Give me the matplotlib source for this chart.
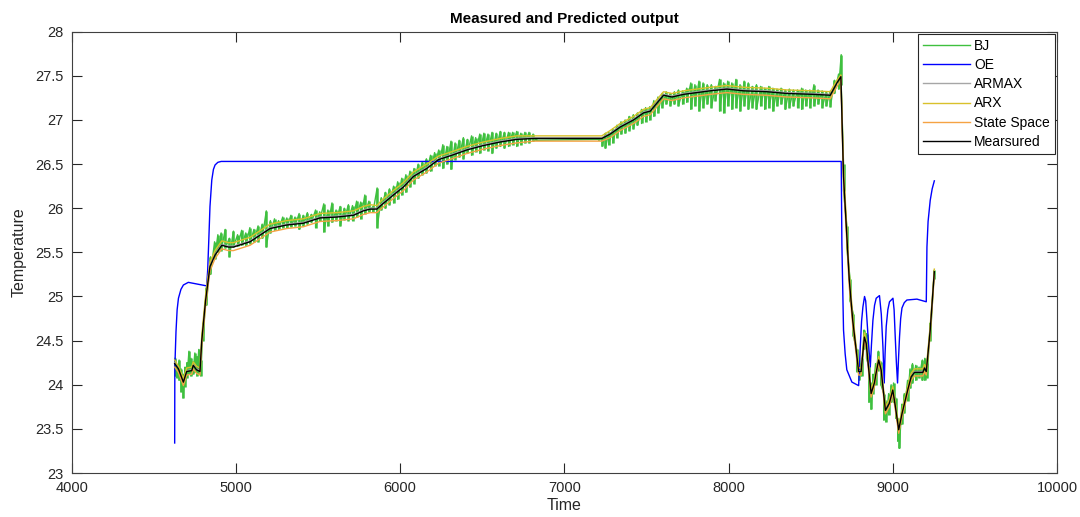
import numpy as np
import matplotlib
matplotlib.use("Agg")
import matplotlib.pyplot as plt

plt.rcParams['font.family'] = ['Liberation Sans', 'DejaVu Sans']

# measured output and the smooth model predictions (same time grid)
meas_t = [4627, 4650, 4680, 4700, 4731, 4740, 4760, 4781, 4792, 4815,
          4842, 4873, 4914, 4954, 4985, 5086, 5208, 5310, 5411, 5512,
          5614, 5716, 5776, 5817, 5858, 5888, 5959, 6020, 6081, 6162,
          6233, 6315, 6406, 6507, 6609, 6710, 6812, 7228, 7279, 7340,
          7421, 7482, 7523, 7563, 7604, 7655, 7726, 7807, 7888, 7990,
          8091, 8233, 8355, 8517, 8619, 8660, 8684, 8700, 8735, 8756,
          8792, 8807, 8827, 8838, 8868, 8888, 8898, 8914, 8929, 8955,
          8979, 9000, 9016, 9036, 9057, 9091, 9112, 9132, 9183, 9193,
          9204, 9228, 9253]
meas_y = [24.24, 24.18, 24.03, 24.15, 24.16, 24.22, 24.17, 24.15, 24.50, 24.95,
          25.34, 25.47, 25.58, 25.56, 25.56, 25.62, 25.77, 25.81, 25.83, 25.89,
          25.90, 25.92, 25.97, 25.99, 25.99, 26.04, 26.15, 26.24, 26.36, 26.45,
          26.55, 26.60, 26.66, 26.71, 26.75, 26.78, 26.79, 26.79, 26.84, 26.92,
          27.00, 27.08, 27.10, 27.19, 27.28, 27.26, 27.29, 27.31, 27.33, 27.35,
          27.33, 27.32, 27.30, 27.29, 27.28, 27.42, 27.49, 26.36, 25.19, 24.73,
          24.15, 24.15, 24.54, 24.47, 23.90, 24.02, 24.13, 24.28, 24.17, 23.71,
          23.79, 23.94, 23.75, 23.49, 23.68, 23.94, 24.09, 24.14, 24.14, 24.19,
          24.15, 24.62, 25.28]
armax_y = [24.25, 24.19, 24.04, 24.16, 24.17, 24.23, 24.18, 24.16, 24.52, 24.97,
           25.36, 25.48, 25.59, 25.57, 25.57, 25.63, 25.78, 25.82, 25.84, 25.90,
           25.91, 25.93, 25.98, 26.00, 26.00, 26.05, 26.16, 26.25, 26.37, 26.46,
           26.56, 26.61, 26.67, 26.72, 26.76, 26.79, 26.80, 26.80, 26.85, 26.93,
           27.01, 27.09, 27.11, 27.20, 27.29, 27.27, 27.30, 27.32, 27.34, 27.36,
           27.34, 27.33, 27.31, 27.30, 27.29, 27.43, 27.50, 26.40, 25.22, 24.75,
           24.16, 24.16, 24.55, 24.48, 23.91, 24.03, 24.14, 24.29, 24.18, 23.72,
           23.80, 23.95, 23.76, 23.50, 23.69, 23.95, 24.10, 24.15, 24.15, 24.20,
           24.16, 24.64, 25.29]
arx_y = [24.28, 24.21, 24.07, 24.19, 24.20, 24.26, 24.21, 24.19, 24.56, 25.01,
         25.39, 25.52, 25.63, 25.61, 25.61, 25.67, 25.82, 25.86, 25.88, 25.94,
         25.95, 25.97, 26.02, 26.04, 26.03, 26.09, 26.20, 26.29, 26.41, 26.50,
         26.59, 26.64, 26.70, 26.75, 26.79, 26.82, 26.82, 26.82, 26.88, 26.96,
         27.04, 27.12, 27.14, 27.23, 27.32, 27.30, 27.33, 27.35, 27.37, 27.39,
         27.37, 27.36, 27.34, 27.33, 27.32, 27.45, 27.51, 26.46, 25.26, 24.79,
         24.19, 24.19, 24.59, 24.51, 23.94, 24.06, 24.17, 24.32, 24.21, 23.75,
         23.83, 23.98, 23.79, 23.53, 23.72, 23.98, 24.13, 24.18, 24.18, 24.23,
         24.19, 24.67, 25.31]
ss_y = [24.20, 24.14, 23.99, 24.11, 24.12, 24.18, 24.13, 24.11, 24.44, 24.89,
        25.29, 25.43, 25.54, 25.52, 25.52, 25.58, 25.73, 25.77, 25.79, 25.85,
        25.86, 25.88, 25.93, 25.95, 25.95, 26.00, 26.11, 26.20, 26.32, 26.41,
        26.51, 26.56, 26.62, 26.67, 26.71, 26.74, 26.76, 26.76, 26.80, 26.88,
        26.96, 27.04, 27.06, 27.15, 27.24, 27.22, 27.25, 27.27, 27.29, 27.31,
        27.29, 27.28, 27.26, 27.25, 27.24, 27.38, 27.45, 26.29, 25.11, 24.67,
        24.11, 24.11, 24.49, 24.43, 23.86, 23.98, 24.09, 24.24, 24.13, 23.67,
        23.75, 23.90, 23.71, 23.45, 23.64, 23.90, 24.05, 24.10, 24.10, 24.15,
        24.11, 24.57, 25.24]

# OE prediction
oe_t = [4627, 4628, 4635, 4642, 4650, 4665, 4680, 4710, 4822, 4828,
        4835, 4842, 4853, 4863, 4873, 4890, 4910, 8686, 8690, 8700,
        8710, 8720, 8751, 8792, 8797, 8802, 8810, 8818, 8828, 8835,
        8843, 8853, 8863, 8870, 8879, 8889, 8899, 8919, 8930, 8940,
        8948, 8953, 8960, 8970, 8980, 9001, 9008, 9015, 9022, 9029,
        9035, 9041, 9048, 9056, 9070, 9086, 9147, 9204, 9208, 9215,
        9228, 9240, 9253]
oe_y = [23.34, 24.20, 24.60, 24.85, 24.98, 25.08, 25.13, 25.16, 25.12, 25.30,
        25.65, 26.02, 26.32, 26.44, 26.49, 26.52, 26.53, 26.53, 25.60, 24.62,
        24.35, 24.17, 24.03, 23.99, 24.20, 24.43, 24.72, 24.88, 25.00, 24.95,
        24.73, 24.45, 24.20, 24.45, 24.73, 24.90, 24.98, 25.01, 24.80, 24.43,
        24.02, 24.35, 24.66, 24.85, 24.94, 24.98, 24.85, 24.54, 24.25, 24.02,
        24.30, 24.54, 24.75, 24.87, 24.93, 24.96, 24.97, 24.94, 25.56, 25.85,
        26.09, 26.22, 26.31]

# BJ prediction: noisy band, upper/lower extent per sample
bj_t_a = [4630, 4642, 4654, 4666, 4678, 4690, 4702, 4714, 4726, 4738,
          4750, 4762, 4774, 4786, 4800, 4820, 4845, 4870, 4890]
bj_hi_a = [24.30, 24.22, 24.28, 24.18, 24.12, 24.20, 24.25, 24.38, 24.30, 24.26,
           24.36, 24.32, 24.40, 24.28, 24.70, 25.10, 25.45, 25.62, 25.70]
bj_lo_a = [24.10, 24.08, 24.05, 23.92, 23.85, 23.98, 24.08, 24.12, 24.10, 24.12,
           24.14, 24.10, 24.12, 24.10, 24.50, 24.90, 25.25, 25.42, 25.50]

bj_t_b = [4910, 4935, 4960, 4985, 5010, 5035, 5060, 5085, 5110, 5135,
          5160, 5185, 5210, 5235, 5260, 5285, 5310, 5335, 5360, 5385,
          5410, 5435, 5460, 5485, 5510, 5535, 5560, 5585, 5610, 5635,
          5660, 5685, 5710, 5735, 5760, 5785, 5810, 5835, 5860, 5885]
bj_hi_b = [25.72, 25.76, 25.66, 25.74, 25.70, 25.75, 25.72, 25.78, 25.76, 25.80,
           25.82, 25.97, 25.86, 25.88, 25.86, 25.90, 25.89, 25.92, 25.90, 25.94,
           25.92, 25.95, 25.93, 25.98, 25.96, 26.05, 25.98, 26.06, 25.98, 26.02,
           26.00, 26.04, 26.03, 26.08, 26.07, 26.15, 26.08, 26.02, 26.23, 26.12]
bj_lo_b = [25.52, 25.55, 25.45, 25.56, 25.57, 25.58, 25.58, 25.60, 25.62, 25.62,
           25.66, 25.56, 25.72, 25.75, 25.76, 25.78, 25.78, 25.79, 25.80, 25.76,
           25.80, 25.82, 25.84, 25.78, 25.86, 25.73, 25.80, 25.84, 25.86, 25.80,
           25.87, 25.86, 25.86, 25.90, 25.88, 25.94, 25.96, 25.96, 25.78, 25.98]

bj_t_c = [5910, 5935, 5960, 5985, 6010, 6035, 6060, 6085, 6110, 6135,
          6160, 6185, 6210, 6235, 6260, 6285, 6310, 6335, 6360, 6385,
          6410, 6435, 6460, 6485, 6510, 6535, 6560, 6585, 6610, 6635,
          6660, 6685, 6710, 6735, 6760, 6785, 6810, 6830, 7210]
bj_hi_c = [26.18, 26.22, 26.25, 26.30, 26.34, 26.38, 26.42, 26.45, 26.50, 26.52,
           26.56, 26.60, 26.63, 26.66, 26.72, 26.70, 26.76, 26.74, 26.77, 26.80,
           26.78, 26.82, 26.80, 26.84, 26.85, 26.84, 26.86, 26.85, 26.87, 26.86,
           26.86, 26.86, 26.87, 26.85, 26.86, 26.86, 26.84, 26.78, 26.78]
bj_lo_c = [26.00, 26.04, 26.06, 26.10, 26.15, 26.18, 26.24, 26.28, 26.34, 26.38,
           26.40, 26.42, 26.48, 26.48, 26.45, 26.50, 26.44, 26.55, 26.58, 26.56,
           26.62, 26.60, 26.64, 26.62, 26.66, 26.65, 26.62, 26.68, 26.70, 26.68,
           26.70, 26.72, 26.70, 26.72, 26.74, 26.74, 26.76, 26.77, 26.77]

bj_t_d = [7230, 7250, 7270, 7295, 7320, 7345, 7370, 7395, 7420, 7445,
          7470, 7495, 7520, 7545, 7570, 7595, 7620, 7645, 7670, 7695,
          7720, 7745, 7770, 7795, 7820, 7845, 7870, 7895, 7920, 7945,
          7970, 7995, 8020, 8045, 8070, 8095, 8120, 8145, 8170, 8195,
          8220, 8245, 8270, 8295, 8320, 8345, 8370, 8395, 8420, 8445,
          8470, 8495, 8520, 8545, 8570, 8595, 8620, 8645, 8670, 8686]
bj_hi_d = [26.80, 26.85, 26.86, 26.90, 26.94, 26.98, 27.00, 27.04, 27.06, 27.08,
           27.12, 27.14, 27.15, 27.22, 27.26, 27.30, 27.32, 27.30, 27.32, 27.34,
           27.33, 27.36, 27.42, 27.40, 27.44, 27.42, 27.40, 27.40, 27.38, 27.46,
           27.42, 27.44, 27.42, 27.46, 27.40, 27.44, 27.42, 27.38, 27.40, 27.38,
           27.36, 27.38, 27.36, 27.35, 27.36, 27.34, 27.35, 27.34, 27.34, 27.36,
           27.34, 27.34, 27.40, 27.34, 27.33, 27.32, 27.33, 27.45, 27.52, 27.74]
bj_lo_d = [26.70, 26.68, 26.72, 26.74, 26.80, 26.84, 26.85, 26.88, 26.90, 26.94,
           26.96, 26.98, 27.00, 27.04, 27.08, 27.14, 27.18, 27.16, 27.18, 27.16,
           27.18, 27.20, 27.12, 27.16, 27.10, 27.14, 27.18, 27.14, 27.22, 27.10,
           27.08, 27.16, 27.12, 27.14, 27.10, 27.16, 27.12, 27.14, 27.12, 27.16,
           27.12, 27.14, 27.10, 27.16, 27.18, 27.12, 27.14, 27.16, 27.14, 27.12,
           27.16, 27.14, 27.16, 27.18, 27.14, 27.16, 27.15, 27.30, 27.35, 27.40]

bj_t_e = [8700, 8720, 8740, 8760, 8780, 8795, 8810, 8825, 8840, 8855,
          8868, 8880, 8895, 8912, 8928, 8945, 8958, 8975, 8990, 9005,
          9018, 9030, 9040, 9055, 9070, 9090, 9105, 9120, 9140, 9160,
          9180, 9195, 9210, 9228, 9253]
bj_hi_e = [26.50, 25.80, 25.20, 24.80, 24.40, 24.25, 24.30, 24.62, 24.58, 24.20,
           24.02, 24.12, 24.24, 24.38, 24.26, 23.90, 23.82, 23.90, 24.00, 24.02,
           23.85, 23.62, 23.55, 23.78, 23.90, 24.05, 24.18, 24.24, 24.22, 24.20,
           24.28, 24.30, 24.25, 24.70, 25.30]
bj_lo_e = [26.20, 25.55, 24.95, 24.55, 24.15, 24.05, 24.10, 24.40, 24.30, 23.80,
           23.72, 23.90, 24.00, 24.16, 24.00, 23.60, 23.58, 23.66, 23.80, 23.80,
           23.62, 23.36, 23.28, 23.55, 23.68, 23.82, 23.96, 24.02, 24.05, 24.08,
           24.05, 24.05, 24.08, 24.50, 25.20]

bj_t = np.array(bj_t_a + bj_t_b + bj_t_c + bj_t_d + bj_t_e)
bj_hi = np.array(bj_hi_a + bj_hi_b + bj_hi_c + bj_hi_d + bj_hi_e)
bj_lo = np.array(bj_lo_a + bj_lo_b + bj_lo_c + bj_lo_d + bj_lo_e)

# zig-zag through the band: top then bottom of each sample
bj_x = np.repeat(bj_t, 2)
bj_y = np.column_stack([bj_hi, bj_lo]).ravel()

bj_color = '#3FC03F'

fig = plt.figure(figsize=(10.8, 5.17), dpi=100)
ax = fig.add_axes([0.0664, 0.0851, 0.9123, 0.8536])

ax.vlines(bj_t, bj_lo, bj_hi, color=bj_color, lw=1.8)
ax.plot(bj_x, bj_y, color=bj_color, lw=0.8, label='BJ')
ax.plot(oe_t, oe_y, color='#0000FF', lw=1.0, label='OE')
ax.plot(meas_t, armax_y, color='#A6A6A6', lw=1.0, label='ARMAX')
ax.plot(meas_t, arx_y, color='#D9C12B', lw=1.4, label='ARX')
ax.plot(meas_t, ss_y, color='#F5A343', lw=1.4, label='State Space')
ax.plot(meas_t, meas_y, color='black', lw=1.1, label='Mearsured')

ax.set_xlim(4000, 10000)
ax.set_ylim(23, 28)
ax.set_xticks(np.arange(4000, 10001, 1000))
ax.set_yticks(np.arange(23, 28.01, 0.5))
ax.set_yticklabels(['23', '23.5', '24', '24.5', '25', '25.5', '26', '26.5',
                    '27', '27.5', '28'])
ax.tick_params(direction='in', length=7, width=0.8, top=True, right=True,
               labelsize=10.5, colors='#262626', pad=6)
for s in ax.spines.values():
    s.set_color('#404040')
    s.set_linewidth(0.8)

ax.set_title('Measured and Predicted output', fontsize=11, fontweight='bold', pad=6)
ax.set_xlabel('Time', fontsize=11.5, color='#262626', labelpad=2)
ax.set_ylabel('Temperature', fontsize=11.5, color='#262626', labelpad=6)

handles, labels = ax.get_legend_handles_labels()
for h in handles:
    h.set_linewidth(1.0)
leg = ax.legend(handles, labels, loc='upper right', fontsize=10, fancybox=False,
                framealpha=1, edgecolor='#262626', handlelength=3.4,
                handletextpad=0.3, labelspacing=0.38, borderpad=0.35,
                borderaxespad=0.15)
leg.get_frame().set_linewidth(0.8)

fig.savefig('out.png', dpi=100)
